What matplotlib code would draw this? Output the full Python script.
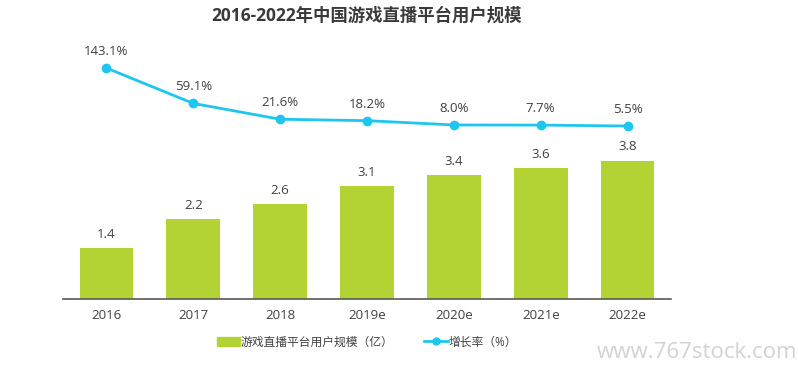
import numpy as np
import matplotlib
matplotlib.use("Agg")
import matplotlib.pyplot as plt
from matplotlib.lines import Line2D
from matplotlib.patches import Patch

plt.rcParams["font.family"] = ["Open Sans", "Noto Sans CJK SC", "DejaVu Sans"]

years = ["2016", "2017", "2018", "2019e", "2020e", "2021e", "2022e"]
users = [1.4, 2.2, 2.6, 3.1, 3.4, 3.6, 3.8]          # 亿
growth = [143.1, 59.1, 21.6, 18.2, 8.0, 7.7, 5.5]    # %

GREEN = "#b3d334"
CYAN = "#1ec6ef"
TXT = "#404040"

W, H = 798, 367
fig = plt.figure(figsize=(W / 100, H / 100), dpi=100)
fig.patch.set_facecolor("white")

# axes placed in pixel coords: x 63..671, y 30..299 (from top)
left, right, top, bottom = 63, 671, 30, 299
ax = fig.add_axes([left / W, 1 - bottom / H, (right - left) / W, (bottom - top) / H])
x = np.arange(len(years))

ax.bar(x, users, width=0.62, color=GREEN, zorder=2)
for xi, v in zip(x, users):
    ax.text(xi, v + 0.2, f"{v:.1f}", ha="center", va="bottom", fontsize=9.5, color=TXT)

ax.set_xlim(-0.5, len(years) - 0.5)
ax.set_ylim(0, (bottom - top) / 36.4)
ax.set_yticks([])
ax.set_xticks(x)
ax.set_xticklabels(years, fontsize=9.5, color=TXT)
ax.tick_params(axis="x", length=0, pad=7)
for s in ["top", "right", "left"]:
    ax.spines[s].set_visible(False)
ax.spines["bottom"].set_color("#595959")
ax.spines["bottom"].set_linewidth(1.2)

ax2 = ax.twinx()
ax2.plot(x, growth, color=CYAN, lw=2, marker="o", ms=6, zorder=3)
for xi, v in zip(x, growth):
    ax2.text(xi, v + 24, f"{v:.1f}%", ha="center", va="bottom", fontsize=9.5, color=TXT)
ax2.set_ylim(-404.9, 233.3)
ax2.set_yticks([])
for s in ax2.spines.values():
    s.set_visible(False)

fig.text(((left + right) / 2) / W, 1 - 16 / H, "2016-2022年中国游戏直播平台用户规模",
         ha="center", va="center", fontsize=12.5, fontweight="bold", color="#3a3a3a")

handles = [Patch(color=GREEN),
           Line2D([0], [0], color=CYAN, lw=2, marker="o", ms=5)]
fig.legend(handles, ["游戏直播平台用户规模（亿）", "增长率（%）"],
           loc="center", bbox_to_anchor=(((left + right) / 2) / W, 1 - 342 / H),
           ncol=2, frameon=False, fontsize=8.5, labelcolor=TXT,
           handlelength=2.0, handleheight=0.7, columnspacing=2.6, handletextpad=0.05)

fig.text(797 / W, 1 - 353 / H, "www.767stock.com", ha="right", va="center",
         fontsize=16, color="#d2d2d2")

fig.savefig("out.png", dpi=100, facecolor="white")
